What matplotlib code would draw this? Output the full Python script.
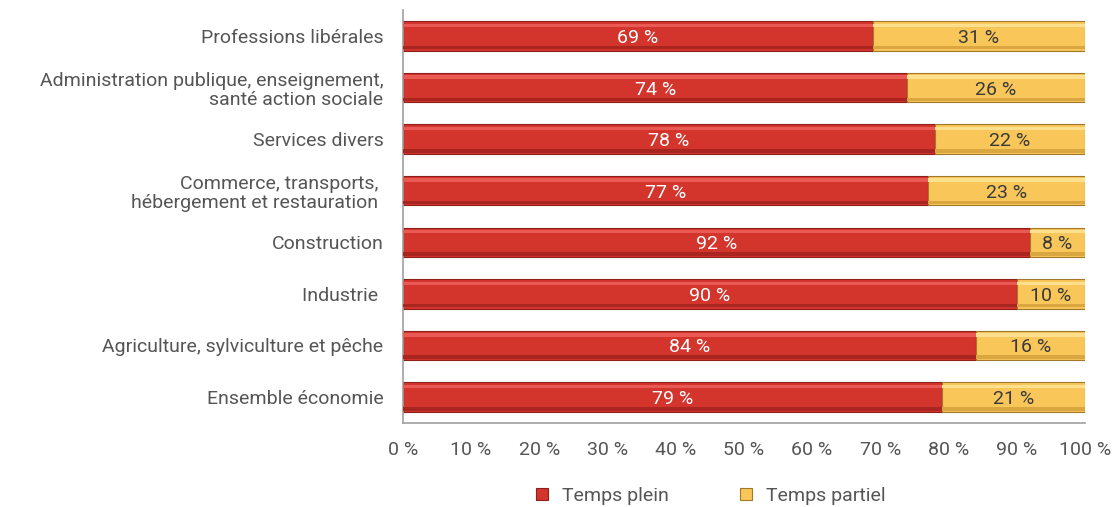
import matplotlib
matplotlib.use('Agg')
import matplotlib.pyplot as plt
import numpy as np

# secteurs, du bas vers le haut
secteurs = [
    "Ensemble économie",
    "Agriculture, sylviculture et pêche",
    "Industrie ",
    "Construction",
    "Commerce, transports, \nhébergement et restauration ",
    "Services divers",
    "Administration publique, enseignement,\nsanté action sociale",
    "Professions libérales",
]
temps_plein = [79, 84, 90, 92, 77, 78, 74, 69]
temps_partiel = [21, 16, 10, 8, 23, 22, 26, 31]
ticks_x = [0, 10, 20, 30, 40, 50, 60, 70, 80, 90, 100]

ROUGE = '#d3352d'
ROUGE_CLAIR = '#ea5a55'
ROUGE_FONCE = '#8e1f1a'
JAUNE = '#f9c65a'
JAUNE_CLAIR = '#fde08e'
JAUNE_FONCE = '#a07a2a'
GRIS_TEXTE = '#555555'

plt.rcParams['font.family'] = ['Roboto', 'DejaVu Sans']

fig = plt.figure(figsize=(11.16, 5.07), dpi=100)
ax = fig.add_axes([0.361, 0.166, 0.611, 0.814])

y = np.arange(len(secteurs))
plein = np.array(temps_plein)
partiel = np.array(temps_partiel)
h = 0.57

# barres principales + effet biseauté (bandeau clair en haut, sombre en bas)
ax.barh(y, plein, height=h, color=ROUGE, edgecolor=ROUGE_FONCE, linewidth=0.8,
        label='Temps plein', zorder=2)
ax.barh(y + h * 0.36, plein, height=h * 0.12, color=ROUGE_CLAIR, linewidth=0, zorder=3)
ax.barh(y - h * 0.40, plein, height=h * 0.12, color='#a8261f', linewidth=0, zorder=3)

ax.barh(y, partiel, left=plein, height=h, color=JAUNE, edgecolor=JAUNE_FONCE,
        linewidth=0.8, label='Temps partiel', zorder=2)
ax.barh(y + h * 0.36, partiel, left=plein, height=h * 0.12, color=JAUNE_CLAIR,
        linewidth=0, zorder=3)
ax.barh(y - h * 0.40, partiel, left=plein, height=h * 0.12, color='#d9a640',
        linewidth=0, zorder=3)

for yi, p, q in zip(y, plein, partiel):
    ax.text(p / 2, yi, f'{p} %', ha='center', va='center_baseline', color='white',
            fontsize=14, zorder=4)
    ax.text(p + q / 2, yi, f'{q} %', ha='center', va='center_baseline',
            color='#3a3a3a', fontsize=14, zorder=4)

ax.set_xlim(0, 100)
ax.set_ylim(-0.5, 7.5)
ax.set_xticks(ticks_x)
ax.set_xticklabels([f'{t} %' for t in ticks_x])
ax.set_yticks(y)
ax.set_yticklabels(secteurs, linespacing=1.1)
ax.tick_params(axis='both', length=0, labelsize=14, labelcolor=GRIS_TEXTE)
ax.tick_params(axis='x', pad=13)
ax.tick_params(axis='y', pad=14)
for lab in ax.get_yticklabels():
    lab.set_horizontalalignment('right')

for s in ('top', 'right'):
    ax.spines[s].set_visible(False)
for s in ('left', 'bottom'):
    ax.spines[s].set_color('#a0a0a0')
    ax.spines[s].set_linewidth(1.2)

handles, labels = ax.get_legend_handles_labels()
leg = fig.legend(handles, labels, loc='center', bbox_to_anchor=(0.637, 0.022),
                 ncol=2, frameon=False, fontsize=14, handlelength=0.6,
                 handleheight=0.6, columnspacing=3.7, handletextpad=0.7)
for t in leg.get_texts():
    t.set_color(GRIS_TEXTE)

fig.savefig('out.png', dpi=100)
